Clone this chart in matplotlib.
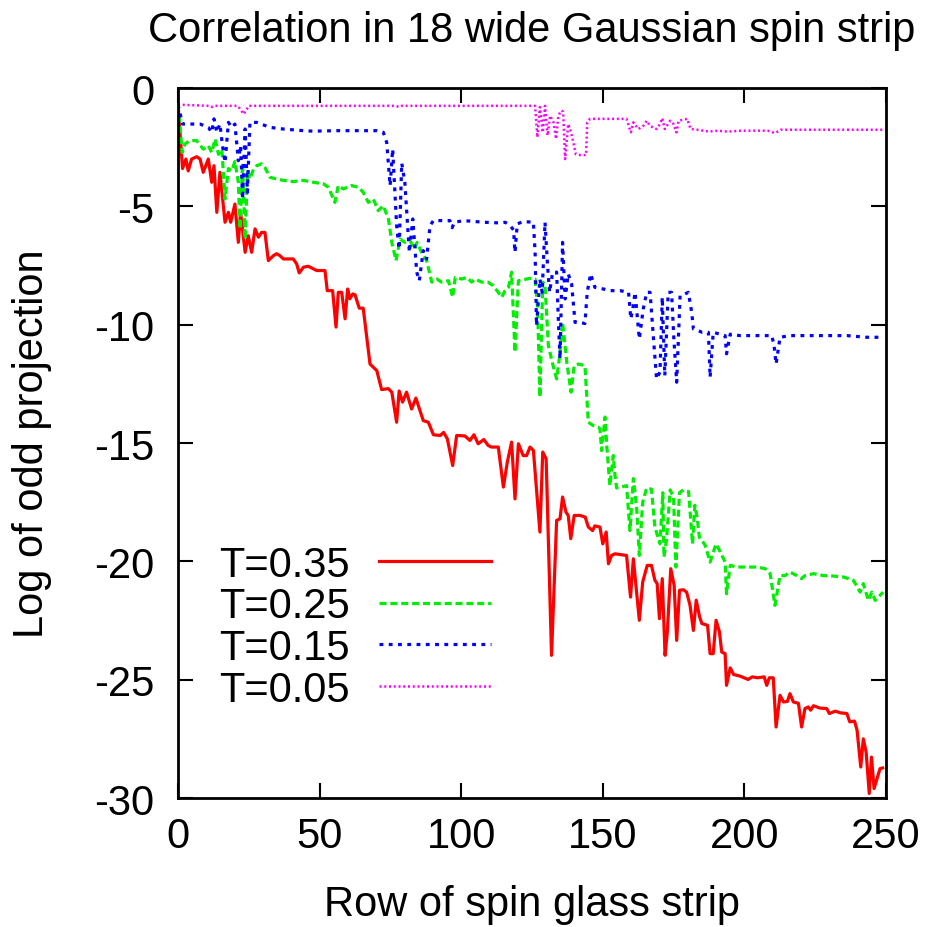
import matplotlib
matplotlib.use("Agg")
import matplotlib.pyplot as plt

plt.rcParams['font.family'] = ['Liberation Sans', 'DejaVu Sans']
plt.rcParams['axes.unicode_minus'] = False

# Row index and log odd-projection for each temperature
rows_035 = [0, 1.6, 2.8, 3.6, 4.8, 6.6, 7.8, 8.9, 10.7, 11.9, 12.7, 13.7, 14.8, 16.6, 17.8, 18.6,
            20.1, 21.3, 22.1, 23.7, 24.8, 26.0, 27.2, 28.4, 29.5, 30.7, 31.9, 33.7, 34.8, 36.0,
            37.2, 40.7, 41.9, 42.8, 44.3, 46.0, 47.2, 49.0, 51.9, 52.7, 54.6, 55.8, 56.6, 57.8,
            59.0, 59.9, 60.7, 61.7, 62.5, 64.0, 65.4, 67.8, 70.2, 71.9, 74.3, 75.5, 77.2, 78.1,
            79.3, 80.7, 82.5, 84.0, 86.6, 88.4, 90.2, 92.6, 93.8, 95.1, 97.0, 98.4, 101.3, 103.1,
            104.5, 106.0, 108.0, 109.5, 110.7, 113.1, 114.9, 116.3, 117.8, 119.0, 120.2, 121.9,
            123.1, 124.3, 125.5, 127.8, 128.8, 130.0, 131.9, 133.7, 134.9, 135.8, 137.0, 137.8,
            138.7, 139.9, 142.0, 143.8, 144.9, 146.4, 147.2, 149.0, 150.0, 151.2, 152.0, 153.1,
            154.3, 158.4, 159.8, 160.8, 162.9, 164.1, 165.7, 167.2, 168.4, 169.2, 170.0, 171.0,
            172.0, 172.8, 174.0, 175.2, 176.1, 177.1, 178.5, 179.6, 180.8, 182.0, 183.0, 184.2,
            185.0, 187.0, 187.9, 189.0, 190.0, 191.2, 192.0, 193.2, 193.7, 195.0, 196.2, 198.5,
            201.3, 202.8, 204.6, 207.0, 207.9, 208.8, 210.2, 211.2, 212.6, 213.8, 215.2, 216.1,
            217.3, 219.1, 220.2, 221.4, 222.6, 223.4, 224.4, 226.7, 229.1, 230.0, 232.1, 233.9,
            236.2, 237.2, 238.9, 239.8, 241.1, 242.0, 243.0, 244.1, 244.9, 245.8, 247.9, 248.8]
log_035 = [-0.7, -3.4, -3.0, -3.5, -3.0, -2.9, -3.0, -3.56, -3.0, -3.98, -3.28, -5.25, -3.56, -5.67,
           -5.25, -5.67, -4.9, -6.52, -5.25, -6.94, -6.24, -6.94, -5.95, -6.3, -6.1, -6.1, -7.29,
           -7.08, -7.0, -7.08, -7.22, -7.22, -7.43, -7.81, -7.57, -7.53, -7.6, -7.71, -7.71, -8.56,
           -8.56, -10.1, -8.63, -8.63, -9.75, -8.49, -8.9, -8.7, -8.73, -9.3, -9.3, -11.66, -11.94,
           -12.74, -12.7, -12.85, -14.12, -12.8, -13.27, -12.85, -13.56, -13.1, -14.05, -14.12,
           -14.65, -14.68, -14.55, -14.82, -15.95, -14.68, -14.7, -14.89, -14.65, -15.03, -14.85,
           -15.1, -15.17, -15.17, -16.86, -15.8, -14.96, -17.36, -15.03, -15.53, -15.53, -15.17,
           -15.31, -18.76, -15.38, -15.67, -23.97, -18.27, -18.2, -17.28, -17.92, -18.06, -19.04,
           -18.06, -18.06, -18.13, -18.55, -18.7, -18.5, -18.55, -19.26, -18.76, -20.1, -19.75,
           -19.68, -19.75, -21.51, -19.89, -22.49, -20.87, -20.17, -20.17, -20.8, -20.94, -22.42,
           -20.73, -23.97, -22.98, -20.31, -21.01, -23.34, -21.22, -21.2, -21.3, -21.85, -22.92,
           -21.64, -22.35, -22.63, -22.7, -23.9, -23.9, -22.49, -22.98, -23.83, -23.9, -25.24,
           -24.5, -24.78, -24.85, -24.99, -24.88, -24.92, -24.88, -25.24, -24.92, -24.92, -27.0,
           -25.66, -25.94, -25.92, -25.59, -25.94, -26.0, -27.0, -26.22, -26.15, -26.29, -26.1,
           -26.2, -26.22, -26.43, -26.33, -26.4, -26.43, -26.78, -26.75, -27.14, -28.69, -27.5,
           -28.06, -29.81, -28.27, -29.6, -28.76, -28.73]

rows_025 = [0, 1.5, 2.5, 4.2, 6.6, 8.9, 10.7, 11.9, 13.1, 14.3, 15.5, 16.6, 17.8, 19.0, 20.1, 21.3,
            21.9, 22.8, 23.7, 24.5, 25.4, 26.4, 27.8, 29.5, 30.7, 32.5, 34.8, 37.2, 40.7, 44.3,
            47.8, 51.4, 53.1, 55.4, 56.6, 58.4, 61.3, 63.7, 65.4, 67.2, 69.0, 70.7, 72.5, 74.3,
            75.5, 77.0, 78.4, 80.1, 81.9, 83.6, 84.4, 86.0, 87.8, 89.6, 91.4, 93.1, 95.5, 97.0,
            97.9, 100.2, 102.0, 103.7, 104.9, 107.3, 109.5, 111.3, 113.1, 114.3, 115.5, 116.7,
            117.8, 119.0, 120.2, 121.9, 124.3, 126.1, 127.0, 127.8, 128.8, 129.6, 130.8, 132.3,
            133.7, 134.8, 135.8, 137.3, 138.8, 139.9, 141.5, 143.7, 144.9, 146.6, 148.4, 149.0,
            149.6, 150.8, 151.4, 152.5, 153.7, 154.3, 154.9, 158.4, 159.6, 160.8, 162.0, 162.9,
            164.1, 165.5, 167.2, 168.4, 170.2, 171.2, 171.6, 172.5, 173.8, 175.0, 175.8, 177.1,
            178.5, 180.3, 181.7, 182.5, 183.4, 184.1, 186.1, 187.9, 190.0, 191.5, 193.2, 193.7,
            195.0, 197.3, 200.9, 204.4, 207.4, 209.1, 210.8, 212.6, 214.4, 216.1, 218.5, 220.2,
            221.4, 224.4, 227.9, 231.4, 235.0, 238.5, 240.9, 242.0, 243.8, 245.0, 246.2, 247.9,
            249.0]
log_025 = [-0.7, -2.72, -2.36, -2.22, -2.22, -2.58, -2.43, -2.72, -2.15, -2.8, -2.6, -4.69, -3.4,
           -3.5, -3.1, -3.98, -5.95, -3.17, -6.38, -3.56, -3.84, -3.5, -3.28, -3.2, -3.36, -3.77,
           -3.84, -3.9, -3.95, -3.9, -3.98, -4.05, -4.19, -4.83, -4.12, -4.26, -4.12, -4.19, -4.4,
           -4.83, -4.69, -5.18, -4.97, -5.53, -6.52, -7.29, -6.38, -6.52, -6.45, -6.8, -6.52,
           -6.94, -7.29, -8.2, -8.07, -8.2, -8.14, -8.84, -8.0, -8.07, -8.0, -8.2, -8.07, -8.2,
           -8.2, -8.35, -8.63, -8.84, -8.56, -8.42, -7.78, -11.16, -8.14, -8.1, -8.04, -8.07,
           -9.33, -13.06, -8.2, -8.35, -10.88, -11.66, -12.29, -11.3, -9.9, -11.6, -12.85, -11.73,
           -11.66, -11.73, -14.12, -14.26, -14.33, -14.4, -15.32, -13.9, -15.1, -16.8, -15.53,
           -16.35, -16.9, -16.8, -18.7, -16.5, -17.8, -19.75, -17.5, -16.9, -16.95, -18.55,
           -19.26, -17.1, -19.82, -19.1, -16.98, -17.3, -20.24, -17.1, -16.98, -17.05, -19.26,
           -17.63, -18.2, -18.98, -19.3, -20.03, -19.26, -19.6, -20.03, -21.37, -20.17, -20.24,
           -20.24, -20.24, -20.31, -20.52, -21.86, -20.6, -20.6, -20.45, -20.6, -20.73, -20.6,
           -20.52, -20.6, -20.62, -20.66, -20.8, -21.3, -20.94, -21.65, -21.3, -21.65, -21.44,
           -21.3]

rows_015 = [0, 1.6, 4.2, 7.8, 10.7, 11.9, 12.7, 13.7, 14.8, 15.7, 16.6, 17.8, 19.0, 20.1, 21.3,
            22.1, 22.8, 23.7, 24.5, 25.4, 27.8, 32.5, 37.2, 44.3, 47.8, 56.0, 63.0, 70.2, 72.5,
            73.7, 74.9, 75.8, 77.2, 78.1, 79.0, 80.1, 81.0, 81.7, 82.9, 84.3, 85.2, 86.6, 87.8,
            89.0, 90.2, 93.8, 96.0, 96.8, 97.6, 100.9, 108.0, 113.9, 115.5, 117.3, 118.5, 119.0,
            119.8, 121.9, 125.5, 126.1, 126.6, 127.8, 128.6, 129.6, 130.5, 131.2, 132.3, 133.7,
            134.3, 134.9, 135.8, 136.7, 137.8, 139.0, 140.2, 142.0, 143.7, 144.5, 145.7, 147.2,
            150.2, 152.6, 156.1, 159.1, 159.9, 160.6, 161.4, 162.9, 164.3, 165.5, 166.7, 168.0,
            169.0, 170.2, 171.0, 171.9, 173.1, 174.3, 175.1, 176.1, 177.3, 179.1, 180.2, 181.4,
            182.0, 183.8, 185.0, 187.3, 187.9, 189.0, 191.4, 193.2, 193.7, 195.0, 198.5, 203.2,
            206.7, 209.7, 210.5, 211.2, 212.6, 216.1, 222.0, 229.1, 236.2, 243.2, 249.0]
log_015 = [-0.7, -1.52, -1.52, -1.52, -1.66, -1.87, -1.3, -1.87, -1.52, -2.43, -3.14, -1.45, -1.66,
           -1.52, -3.07, -2.43, -4.69, -1.73, -4.4, -1.45, -1.45, -1.66, -1.73, -1.8, -1.82, -1.8,
           -1.8, -1.8, -1.87, -2.3, -4.12, -2.58, -5.81, -6.8, -3.17, -3.98, -5.67, -6.94, -5.53,
           -7.78, -8.14, -6.87, -7.22, -5.81, -5.6, -5.6, -5.6, -5.9, -5.67, -5.6, -5.67, -5.7,
           -5.67, -5.81, -6.0, -6.94, -5.74, -5.64, -5.67, -6.94, -10.04, -8.07, -8.63, -5.67,
           -7.5, -8.63, -7.78, -7.78, -9.75, -11.44, -6.52, -8.91, -7.85, -8.28, -9.9, -9.9,
           -9.95, -8.63, -7.85, -8.42, -8.49, -8.56, -8.56, -8.63, -9.75, -9.33, -8.63, -10.6,
           -9.33, -8.63, -8.63, -10.74, -12.29, -12.0, -8.84, -12.15, -8.63, -8.63, -10.6, -12.43,
           -8.77, -8.7, -8.63, -9.47, -10.18, -10.25, -10.32, -10.32, -12.22, -10.32, -10.4,
           -10.46, -11.23, -10.4, -10.46, -10.46, -10.46, -10.46, -10.9, -11.66, -10.53, -10.46,
           -10.46, -10.46, -10.46, -10.53, -10.53]

rows_005 = [0, 11.0, 11.9, 12.7, 21.0, 22.1, 23.1, 24.0, 25.0, 77.0, 78.0, 79.0, 126.1, 126.9,
            127.8, 128.8, 129.6, 130.5, 131.4, 132.6, 133.5, 134.3, 135.3, 136.0, 136.7, 137.8,
            138.8, 139.6, 140.5, 142.0, 144.1, 144.5, 145.5, 149.0, 153.7, 158.4, 159.9, 160.8,
            162.6, 164.3, 165.5, 166.7, 169.0, 170.2, 171.0, 171.9, 173.8, 175.0, 176.0, 176.8,
            179.8, 181.0, 183.4, 187.5, 190.6, 194.1, 198.8, 208.2, 210.8, 212.9, 220.0, 231.8,
            248.8]
log_005 = [-0.7, -0.75, -0.8, -0.75, -0.75, -0.9, -1.1, -0.95, -0.75, -0.75, -0.8, -0.75, -0.75,
           -2.08, -0.8, -1.87, -0.75, -2.0, -1.17, -1.45, -2.15, -1.17, -0.95, -1.0, -3.0, -1.52,
           -1.87, -2.3, -2.8, -2.83, -2.83, -1.45, -1.3, -1.3, -1.3, -1.3, -1.87, -1.45, -1.73,
           -1.6, -1.38, -1.6, -1.73, -1.52, -1.27, -1.73, -1.38, -1.52, -1.87, -1.38, -1.3, -1.73,
           -1.76, -1.84, -1.8, -1.84, -1.8, -1.8, -1.9, -1.76, -1.76, -1.76, -1.76]

labels = ["T=0.35", "T=0.25", "T=0.15", "T=0.05"]
x_ticks = [0, 50, 100, 150, 200, 250]
y_ticks = [-30, -25, -20, -15, -10, -5, 0]

fig = plt.figure(figsize=(9.32, 9.28), dpi=100)
ax = fig.add_axes([0.191, 0.139, 0.7596, 0.765])

ax.plot(rows_035, log_035, color='#ff0000', lw=2.3, label=labels[0])
ax.plot(rows_025, log_025, color='#00ee00', lw=2.3, dashes=(2.2, 1.2), label=labels[1])
ax.plot(rows_015, log_015, color='#0000ff', lw=2.3, dashes=(1.2, 1.7), label=labels[2])
ax.plot(rows_005, log_005, color='#ff00ff', lw=1.8, dashes=(0.8, 1.1), label=labels[3])

ax.set_xlim(0, 250)
ax.set_ylim(-30, 0)
ax.set_xticks(x_ticks)
ax.set_yticks(y_ticks)
ax.tick_params(direction='in', length=11, width=1.5, top=True, right=True,
               labelsize=30, pad=13)
ax.tick_params(axis='y', pad=17)
for s in ax.spines.values():
    s.set_linewidth(2.0)

ax.set_title("Correlation in 18 wide Gaussian spin strip", fontsize=30, pad=34)
ax.set_xlabel("Row of spin glass strip", fontsize=30, labelpad=20)
ax.set_ylabel("Log of odd projection", fontsize=30, labelpad=30)

ax.legend(loc='upper left', bbox_to_anchor=(0.058, 0.357), frameon=False, markerfirst=False,
          fontsize=30, handlelength=2.7, handletextpad=0.7, labelspacing=0.04,
          borderpad=0, borderaxespad=0)

fig.savefig("out.png", dpi=100)
